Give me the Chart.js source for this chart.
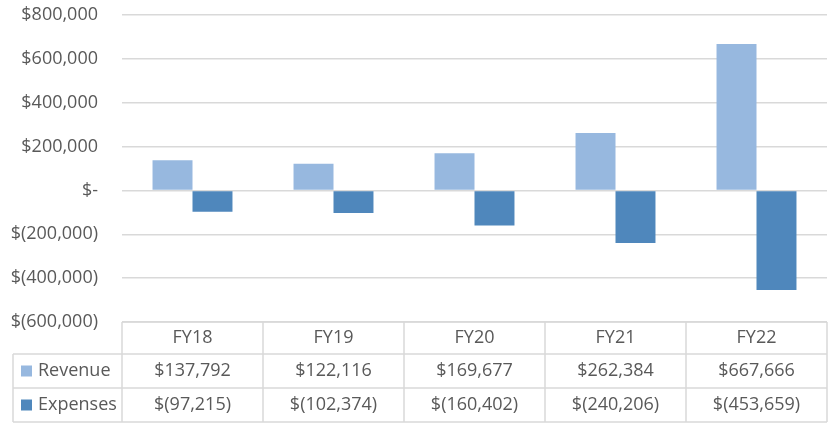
<!DOCTYPE html>
<html>
<head>
<meta charset="utf-8">
<script src="https://cdn.jsdelivr.net/npm/chart.js@4/dist/chart.umd.min.js"></script>
<style>
  html, body { margin: 0; padding: 0; background: #ffffff; }
  #wrap { width: 833px; height: 423px; position: relative; }
</style>
</head>
<body>
<div id="wrap"><canvas id="c" width="833" height="423"></canvas></div>
<script>
const categories = ["FY18", "FY19", "FY20", "FY21", "FY22"];
const seriesNames = ["Revenue", "Expenses"];
const revenue = [137792, 122116, 169677, 262384, 667666];
const expenses = [-97215, -102374, -160402, -240206, -453659];
const yTicks = [800000, 600000, 400000, 200000, 0, -200000, -400000, -600000];

const colors = ["#97b8df", "#4f87bc"];
const textColor = "#595959";
const gridColor = "#d9d9d9";
const FONT = "'Open Sans', 'Noto Sans', sans-serif";
const FONT_SIZE = 18;

function fmt(v) {
  if (v === 0) return "$-";
  const s = Math.abs(v).toLocaleString("en-US");
  return v < 0 ? "$(" + s + ")" : "$" + s;
}

const dataTablePlugin = {
  id: "dataTable",
  afterDraw(chart) {
    const ctx = chart.ctx;
    const area = chart.chartArea;
    const xs = chart.scales.x;
    const n = categories.length;
    const colW = (area.right - area.left) / n;
    const top = area.bottom;
    const rowH = [32, 34, 34];
    const y1 = top + rowH[0];
    const y2 = y1 + rowH[1];
    const y3 = y2 + rowH[2];
    const legendLeft = 13;

    ctx.save();
    ctx.strokeStyle = gridColor;
    ctx.lineWidth = 1.5;
    ctx.beginPath();
    ctx.moveTo(area.left, top); ctx.lineTo(area.right, top);
    ctx.moveTo(legendLeft, y1); ctx.lineTo(area.right, y1);
    ctx.moveTo(legendLeft, y2); ctx.lineTo(area.right, y2);
    ctx.moveTo(legendLeft, y3); ctx.lineTo(area.right, y3);
    ctx.moveTo(legendLeft, y1); ctx.lineTo(legendLeft, y3);
    for (let i = 0; i <= n; i++) {
      const x = area.left + i * colW;
      ctx.moveTo(x, top); ctx.lineTo(x, y3);
    }
    ctx.stroke();

    ctx.fillStyle = textColor;
    ctx.font = FONT_SIZE + "px " + FONT;
    ctx.textAlign = "center";
    ctx.textBaseline = "middle";
    const rows = [revenue, expenses];
    for (let i = 0; i < n; i++) {
      const cx = xs.getPixelForValue(i);
      ctx.fillText(categories[i], cx, (top + y1) / 2);
      ctx.fillText(fmt(rows[0][i]), cx, (y1 + y2) / 2);
      ctx.fillText(fmt(rows[1][i]), cx, (y2 + y3) / 2);
    }
    ctx.textAlign = "left";
    const rowMids = [(y1 + y2) / 2, (y2 + y3) / 2];
    for (let r = 0; r < 2; r++) {
      ctx.fillStyle = colors[r];
      ctx.fillRect(21, rowMids[r] - 5.5, 11, 11);
      ctx.fillStyle = textColor;
      ctx.fillText(seriesNames[r], 38, rowMids[r]);
    }
    ctx.restore();
  }
};

new Chart(document.getElementById("c"), {
  type: "bar",
  data: {
    labels: categories,
    datasets: [
      { label: seriesNames[0], data: revenue, backgroundColor: colors[0], borderWidth: 0 },
      { label: seriesNames[1], data: expenses, backgroundColor: colors[1], borderWidth: 0 }
    ]
  },
  options: {
    responsive: false,
    animation: false,
    devicePixelRatio: 1,
    layout: { padding: { top: 15, right: 6, bottom: 101, left: 0 } },
    datasets: { bar: { categoryPercentage: 0.567, barPercentage: 1.0 } },
    plugins: { legend: { display: false }, tooltip: { enabled: false } },
    scales: {
      x: { display: false, grid: { display: false } },
      y: {
        min: -600000,
        max: 800000,
        afterFit(scale) { scale.width = 122; scale.paddingTop = 0; scale.paddingBottom = 0; },
        afterBuildTicks(scale) { scale.ticks = yTicks.map(v => ({ value: v })); },
        border: { display: false },
        grid: { color: gridColor, lineWidth: 1.5, drawTicks: false },
        ticks: {
          padding: 24,
          color: textColor,
          font: { family: FONT, size: FONT_SIZE },
          callback: (v) => fmt(v)
        }
      }
    }
  },
  plugins: [dataTablePlugin]
});
</script>
</body>
</html>
